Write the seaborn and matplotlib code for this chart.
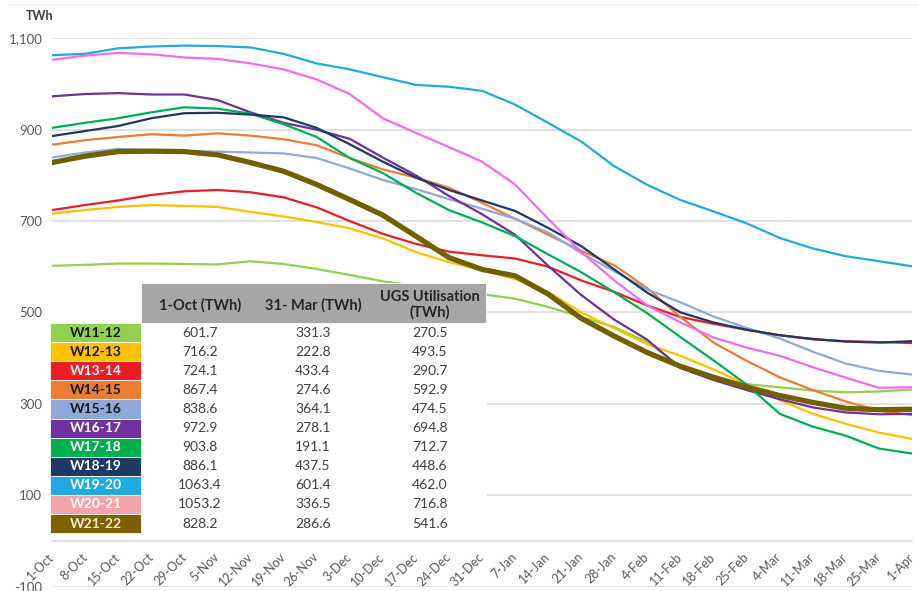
import matplotlib
matplotlib.use('Agg')
import numpy as np
import pandas as pd
import seaborn as sns
import matplotlib.pyplot as plt
from matplotlib.patches import Rectangle
from matplotlib.lines import Line2D
from matplotlib.ticker import FuncFormatter

# weekly points from 1-Oct to 1-Apr
dates = pd.date_range('2021-10-01', '2022-04-01', freq='7D')
tick_labels = [f'{d.day}-{d:%b}' for d in dates]

winters = ['W11-12', 'W12-13', 'W13-14', 'W14-15', 'W15-16', 'W16-17',
           'W17-18', 'W18-19', 'W19-20', 'W20-21', 'W21-22']

# storage level, TWh
w11_12 = [602, 604, 607, 607, 606, 605, 612, 606, 595, 582, 568, 558, 548, 540,
          530, 512, 490, 468, 435, 382, 355, 343, 336, 329, 325, 327, 331]
w12_13 = [716, 724, 731, 735, 733, 731, 720, 710, 698, 684, 662, 632, 610, 593,
          573, 545, 500, 465, 430, 405, 375, 342, 308, 278, 256, 237, 223]
w13_14 = [724, 735, 745, 757, 765, 768, 763, 752, 730, 700, 672, 650, 633, 625,
          618, 600, 570, 545, 515, 490, 475, 462, 450, 441, 437, 435, 433]
w14_15 = [867, 877, 884, 890, 887, 892, 887, 879, 866, 838, 813, 795, 773, 740,
          705, 670, 635, 603, 553, 490, 434, 394, 358, 330, 305, 285, 275]
w15_16 = [839, 850, 858, 855, 853, 852, 850, 848, 838, 815, 790, 770, 748, 727,
          705, 675, 630, 590, 550, 522, 491, 466, 443, 414, 388, 372, 364]
w16_17 = [973, 978, 980, 977, 977, 965, 938, 915, 900, 880, 839, 800, 755, 715,
          670, 602, 538, 484, 440, 378, 352, 330, 310, 292, 281, 277, 278]
w17_18 = [904, 915, 925, 938, 949, 946, 935, 912, 884, 838, 805, 762, 724, 697,
          667, 627, 588, 544, 498, 446, 395, 342, 278, 250, 230, 202, 191]
w18_19 = [886, 897, 908, 925, 936, 937, 933, 927, 904, 868, 830, 795, 768, 745,
          722, 685, 645, 594, 543, 500, 478, 462, 450, 442, 436, 434, 437]
w19_20 = [1063, 1066, 1078, 1082, 1084, 1083, 1080, 1066, 1045, 1032, 1015, 998, 994, 985,
          955, 915, 874, 820, 779, 746, 721, 695, 663, 640, 623, 612, 601]
w20_21 = [1053, 1062, 1068, 1065, 1058, 1055, 1045, 1032, 1010, 978, 925, 893, 862, 830,
          780, 705, 632, 570, 515, 478, 445, 423, 405, 380, 357, 335, 336]
w21_22 = [828, 842, 852, 853, 852, 845, 828, 809, 780, 747, 713, 667, 620, 594,
          580, 540, 487, 448, 412, 382, 358, 337, 318, 303, 290, 287, 288]
series = [w11_12, w12_13, w13_14, w14_15, w15_16, w16_17,
          w17_18, w18_19, w19_20, w20_21, w21_22]

# table on the chart
start_twh = ['601.7', '716.2', '724.1', '867.4', '838.6', '972.9',
             '903.8', '886.1', '1063.4', '1053.2', '828.2']
end_twh = ['331.3', '222.8', '433.4', '274.6', '364.1', '278.1',
           '191.1', '437.5', '601.4', '336.5', '286.6']
ugs_twh = ['270.5', '493.5', '290.7', '592.9', '474.5', '694.8',
           '712.7', '448.6', '462.0', '716.8', '541.6']

line_colors = ['#92D050', '#FFC000', '#EE1C25', '#ED7D31', '#8EA9DB', '#7030A0',
               '#00B050', '#1F3864', '#1FAAE6', '#F26CF0', '#716000']
cell_colors = ['#92D050', '#FFC000', '#EE1C25', '#ED7D31', '#8EA9DB', '#7030A0',
               '#00B050', '#1F3864', '#1FAAE6', '#F4A3A8', '#7F6000']
cell_text = ['#1A1A1A', '#1A1A1A', 'white', '#1A1A1A', '#1A1A1A', 'white',
             'white', 'white', 'white', 'white', '#EFE8CF']

df = pd.concat([pd.DataFrame({'date': dates, 'TWh': s, 'winter': w})
                for w, s in zip(winters, series)], ignore_index=True)

sns.set_style('white')
plt.rcParams['font.family'] = ['Lato', 'DejaVu Sans']

W, H = 918, 591
def fx(x):
    return x / W
def fy(y):
    return 1 - y / H

fig = plt.figure(figsize=(W / 100, H / 100), dpi=100)
ax = fig.add_axes([fx(52), fy(586.5), (912 - 52) / W, (586.5 - 38.3) / H])

widths = {w: 1.6 for w in winters}
widths['W21-22'] = 3.8
sns.lineplot(data=df, x='date', y='TWh', hue='winter', hue_order=winters,
             palette=dict(zip(winters, line_colors)), size='winter', sizes=widths,
             legend=False, ax=ax)

# x axis crosses at 0 (set before the tick labels, it resets them)
for s in ['top', 'right', 'left']:
    ax.spines[s].set_visible(False)
ax.spines['bottom'].set_position(('data', 0))
ax.spines['bottom'].set_color('#D9D9D9')
ax.spines['bottom'].set_linewidth(1.1)

ax.set_ylim(-100, 1100)
ax.set_yticks(np.arange(-100, 1101, 200))
ax.yaxis.set_major_formatter(FuncFormatter(lambda v, p: f'{v:,.0f}'))
ax.set_xlim(dates[0], dates[-1])
ax.set_xticks(dates)
ax.set_xticklabels(tick_labels)
ax.tick_params(axis='x', length=0, pad=10, labelsize=9, labelcolor='#595959')
ax.tick_params(axis='y', length=0, pad=7, labelsize=9.5, labelcolor='#595959')
for lab in ax.get_xticklabels():
    lab.set_rotation(45)
    lab.set_ha('right')
    lab.set_va('center')
    lab.set_rotation_mode('anchor')
ax.grid(axis='y', color='#D9D9D9', lw=1.1)
ax.set_axisbelow(True)
ax.set_xlabel(None)
ax.set_ylabel(None)

fig.text(fx(40), fy(16), 'TWh', ha='center', va='center', fontsize=9,
         fontweight='bold', color='#404040')
fig.add_artist(Line2D([fx(10), fx(918)], [fy(5), fy(5)], color='#EDEDED', lw=1.2))


def box(x0, y0, x1, y1, color, z=3):
    fig.add_artist(Rectangle((fx(x0), fy(y1)), (x1 - x0) / W, (y1 - y0) / H,
                             transform=fig.transFigure, facecolor=color,
                             edgecolor='white', lw=0.6, zorder=z))


# table over the chart
box(50, 283, 486, 534, 'white')
box(141, 283, 486, 323, '#A6A6A6')
cols = [200, 313, 430]
fig.text(fx(cols[0]), fy(305), '1-Oct (TWh)', ha='center', va='center',
         fontsize=10.5, fontweight='bold', color='#262626', zorder=5)
fig.text(fx(cols[1]), fy(305), '31- Mar (TWh)', ha='center', va='center',
         fontsize=10.5, fontweight='bold', color='#262626', zorder=5)
fig.text(fx(cols[2]), fy(305), 'UGS Utilisation\n(TWh)', ha='center', va='center',
         fontsize=10.5, fontweight='bold', color='#262626', linespacing=1.1, zorder=5)
row_h = 19.1
for i, w in enumerate(winters):
    y0 = 323 + i * row_h
    yc = y0 + row_h / 2
    box(50, y0, 141, y0 + row_h, cell_colors[i], z=4)
    fig.text(fx(96), fy(yc), w, ha='center', va='center', fontsize=10,
             fontweight='bold', color=cell_text[i], zorder=5)
    for x, v in zip(cols, [start_twh[i], end_twh[i], ugs_twh[i]]):
        fig.text(fx(x), fy(yc), v, ha='center', va='center', fontsize=10,
                 color='#404040', zorder=5)

fig.savefig('out.png', dpi=100, facecolor='white')
